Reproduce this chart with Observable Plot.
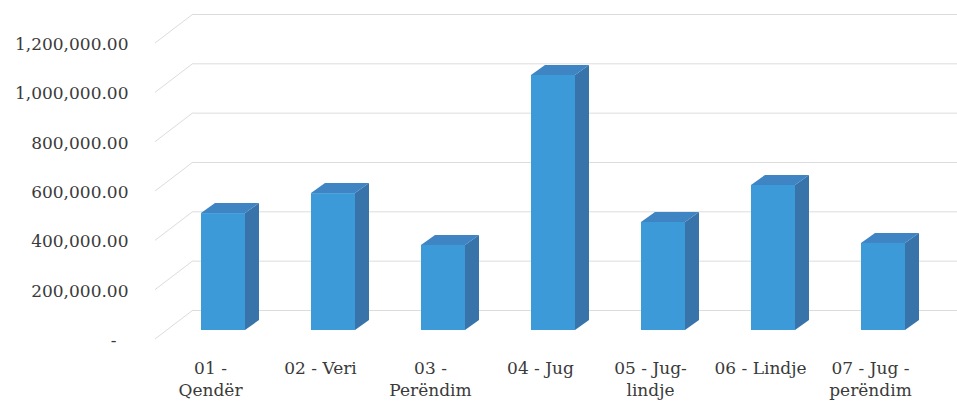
<!DOCTYPE html>
<html>
<head>
<meta charset="utf-8">
<script src="https://cdn.jsdelivr.net/npm/d3@7"></script>
<script src="https://cdn.jsdelivr.net/npm/@observablehq/plot@0.6"></script>
<style>
  body { margin: 0; background: #fff; }
  #chart svg { display: block; }
</style>
</head>
<body>
<div id="chart"></div>
<script>
const regions = ["01 - Qendër", "02 - Veri", "03 - Perëndim", "04 - Jug", "05 - Jug-lindje", "06 - Lindje", "07 - Jug - perëndim"];
const regionLabels = ["01 -\nQendër", "02 - Veri", "03 -\nPerëndim", "04 - Jug", "05 - Jug-\nlindje", "06 - Lindje", "07 - Jug -\nperëndim"];
const values = [474000, 555000, 345000, 1034000, 438000, 588000, 353000];
const yTicks = [0, 200000, 400000, 600000, 800000, 1000000, 1200000];

const data = regions.map((r, i) => ({region: r, value: values[i]}));

// 3D projection offsets (pixels, relative to the back-wall plane)
const FRONT_DX = -22, FRONT_DY = 20;   // bar front face
const DEPTH_DX = 14, DEPTH_DY = -10;   // bar depth
const WALL_DX = -38, WALL_DY = 29;     // side wall depth

const fmt = d3.format(",.2f");
const gridColor = "#dcdcdc";
const frontColor = "#3d9ad8";
const topColor = "#3f84c3";
const sideColor = "#3873aa";
const serif = "DejaVu Serif";
const textColor = "#3a3a3a";

function bar3d(index, scales, values, dimensions, context) {
  const g = d3.create("svg:g");
  const bw = scales.x.bandwidth();
  for (const i of index) {
    const x0 = values.x[i] + FRONT_DX;
    const x1 = x0 + bw;
    const yb = values.y1[i] + FRONT_DY;
    const yt = values.y2[i] + FRONT_DY;
    g.append("polygon")
      .attr("points", [[x1, yt], [x1 + DEPTH_DX, yt + DEPTH_DY], [x1 + DEPTH_DX, yb + DEPTH_DY], [x1, yb]].join(" "))
      .attr("fill", sideColor);
    g.append("polygon")
      .attr("points", [[x0, yt], [x0 + DEPTH_DX, yt + DEPTH_DY], [x1 + DEPTH_DX, yt + DEPTH_DY], [x1, yt]].join(" "))
      .attr("fill", topColor);
    g.append("rect")
      .attr("x", x0).attr("y", yt).attr("width", bw).attr("height", yb - yt)
      .attr("fill", frontColor);
  }
  return g.node();
}

function wallDiagonals(index, scales, values, dimensions, context) {
  const g = d3.create("svg:g").attr("stroke", gridColor).attr("stroke-width", 1);
  const xl = dimensions.marginLeft;
  for (const i of index) {
    const y = values.y[i];
    g.append("line")
      .attr("x1", xl).attr("y1", y)
      .attr("x2", xl + WALL_DX).attr("y2", y + WALL_DY);
  }
  return g.node();
}

const chart = Plot.plot({
  width: 957,
  height: 407,
  marginLeft: 193,
  marginRight: 0,
  marginTop: 14,
  marginBottom: 97,
  style: {fontSize: "17px", color: textColor, background: "#fff"},
  x: {domain: regions, padding: 0.6, paddingOuter: 0.25},
  y: {domain: [0, 1200000]},
  marks: [
    Plot.gridY(yTicks, {stroke: gridColor, strokeOpacity: 1, strokeWidth: 1}),
    Plot.ruleY(yTicks, {y: d => d, render: wallDiagonals}),
    Plot.axisY(yTicks, {
      tickSize: 0, tickPadding: 65, dy: 30,
      tickFormat: d => d === 0 ? "-\u2002\u2009" : fmt(d),
      fontSize: 17, fontFamily: serif, fill: textColor, label: null
    }),
    Plot.axisX({
      tickSize: 0, tickPadding: 48, dx: -35,
      tickFormat: d => regionLabels[regions.indexOf(d)],
      lineHeight: 1.3, fontSize: 17, fontFamily: serif, fill: textColor, label: null
    }),
    Plot.barY(data, {x: "region", y: "value", render: bar3d})
  ]
});

document.getElementById("chart").appendChild(chart);
</script>
</body>
</html>
